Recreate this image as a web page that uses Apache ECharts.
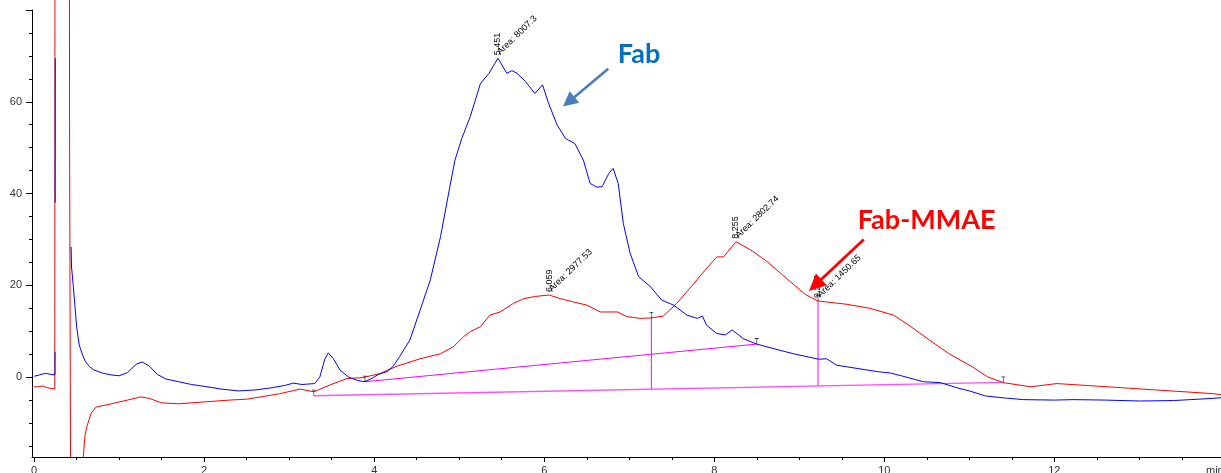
<!DOCTYPE html>
<html><head><meta charset="utf-8">
<script src="https://cdn.jsdelivr.net/npm/echarts@6/dist/echarts.min.js"></script>
<style>html,body{margin:0;padding:0;background:#fff;overflow:hidden}#c{width:1221px;height:473px}</style>
</head><body><div id="c"></div>
<script>
// ---------- data ----------
const blueTrace = [
 [0.0,0.2],[0.05,0.4],[0.1,0.7],[0.15,0.8],[0.2,0.6],[0.245,0.5],[0.246,5.5],[0.2465,null],[0.2475,38],[0.2485,69.5],[0.249,null],
 [0.435,28.4],[0.44,24],[0.46,20],[0.5,11],[0.53,7],[0.57,4.8],[0.6,3.5],[0.65,2.3],[0.7,1.6],[0.8,0.9],[0.9,0.5],
 [1.0,0.3],[1.1,1.0],[1.2,2.8],[1.27,3.3],[1.35,2.5],[1.45,0.6],[1.55,-0.4],[1.7,-1.0],[1.85,-1.6],[2.0,-2.0],
 [2.2,-2.6],[2.4,-3.0],[2.6,-2.8],[2.8,-2.3],[2.95,-1.8],[3.05,-1.3],[3.15,-1.6],[3.3,-1.4],[3.36,0],[3.42,4],
 [3.46,5.3],[3.52,4],[3.6,1.5],[3.7,0],[3.8,-0.7],[3.88,-1.0],[3.95,-0.5],[4.05,0.6],[4.15,1.2],[4.22,2.3],
 [4.3,4.5],[4.42,8.1],[4.54,14.6],[4.66,21.2],[4.78,30.6],[4.89,41.5],[4.95,47.3],[5.03,52.0],[5.13,56.8],
 [5.25,64.0],[5.35,66.2],[5.455,69.5],[5.56,66.2],[5.62,66.8],[5.68,66.2],[5.78,64.4],[5.89,61.8],[5.98,63.7],
 [6.05,59.7],[6.15,55.0],[6.25,52.0],[6.36,50.9],[6.46,47.3],[6.54,42.2],[6.62,41.4],[6.68,41.5],[6.76,44.4],
 [6.81,45.5],[6.87,42.2],[6.93,33.5],[7.01,27.0],[7.11,21.9],[7.25,19.7],[7.38,16.8],[7.52,15.7],[7.68,13.5],
 [7.80,12.8],[7.86,13.3],[7.91,11.3],[8.03,9.5],[8.13,9.2],[8.21,10.3],[8.34,8.4],[8.50,7.2],[8.70,6.2],
 [8.93,5.1],[9.23,3.9],[9.32,4.0],[9.44,2.6],[9.68,1.9],[9.92,1.2],[10.07,0.9],[10.2,0.3],[10.46,-1.0],
 [10.66,-1.2],[10.89,-2.5],[11.0,-3.0],[11.19,-4.1],[11.45,-4.6],[11.64,-4.9],[12.0,-5.0],[12.22,-4.9],
 [12.6,-5.0],[13.01,-5.2],[13.4,-5.1],[13.7,-4.8],[13.96,-4.5]
];
const redTrace = [
 [0.0,-2.1],[0.05,-2.1],[0.1,-1.9],[0.15,-2.3],[0.243,-2.6],[0.245,85],[0.415,85],[0.418,45],[0.428,-17.4],[0.43,null],
 [0.578,-17.4],[0.6,-12.5],[0.62,-10.8],[0.67,-7.9],[0.73,-6.5],[0.89,-5.9],[1.0,-5.4],[1.1,-5.0],[1.25,-4.3],
 [1.35,-4.6],[1.5,-5.6],[1.7,-5.8],[2.0,-5.4],[2.3,-5.0],[2.5,-4.8],[2.7,-4.2],[2.89,-3.6],[3.13,-2.6],[3.29,-3.2],
 [3.48,-1.7],[3.68,-0.3],[3.87,-0.1],[4.07,0.8],[4.27,2.4],[4.54,4.0],[4.78,5.1],[4.93,6.6],[5.05,8.8],[5.13,9.9],
 [5.25,11.0],[5.36,13.5],[5.48,14.2],[5.64,16.1],[5.76,17.1],[5.9,17.6],[6.059,17.9],[6.19,17.1],[6.34,16.4],
 [6.50,15.7],[6.66,14.2],[6.86,14.2],[6.97,13.2],[7.13,12.8],[7.26,12.9],[7.40,13.3],[7.56,16.1],[7.76,20.4],
 [7.9,23.5],[8.03,26.2],[8.11,26.2],[8.255,29.5],[8.43,27.7],[8.62,25.2],[8.85,21.5],[9.08,17.9],[9.22,16.6],
 [9.55,15.9],[9.83,15.0],[10.11,13.5],[10.29,11.3],[10.53,8.1],[10.76,5.1],[11.04,2.2],[11.21,0.1],[11.4,-1.2],
 [11.72,-2.1],[12.03,-1.4],[12.62,-2.1],[13.2,-2.8],[13.87,-3.6],[13.96,-3.8]
];
const blueBaseline = [[3.89,-1.0],[8.50,7.2]];
const redBaseline = [[3.29,-4.05],[11.40,-1.15]];
const dropLine1 = [[7.26,12.9],[7.26,-2.6]];
const dropLine2 = [[9.22,16.6],[9.22,-1.9]];
const baselineMarks = [[3.89,-1.0],[8.50,7.2],[3.29,-4.05],[11.40,-1.15],[7.26,12.9],[9.22,16.6]];

const xMajorTicks = [0,2,4,6,8,10,12];
const xMinorTicks = [0.5,1,1.5,2.5,3,3.5,4.5,5,5.5,6.5,7,7.5,8.5,9,9.5,10.5,11,11.5,12.5,13,13.5];
const yMajorTicks = [0,20,40,60,80];
const yLabelValues = [0,20,40,60];
const yMinorTicks = [-15,-10,-5,5,10,15,25,30,35,45,50,55,65,70,75];

const peakLabels = ['5.451','6.059','8.255','9.217'];
const peakX = [5.451,6.059,8.255,9.22];
const peakY = [69.5,17.9,29.5,16.6];
const peakAreas = ['8007.3','2977.53','2802.74','1450.65'];

const fabLabelPos = [7.115,70.4];
const mmaeLabelPos = [10.497,34.2];
const fabArrow = [[6.753,67.2],[6.22,58.95]];
const mmaeArrow = [[9.758,30.0],[9.114,18.76]];

// ---------- chart ----------
const FONT = '"Liberation Sans", Arial, sans-serif';
const chart = echarts.init(document.getElementById('c'), null, {renderer:'canvas'});
const axisCommon = {type:'value', min:-0.025, max:13.96, splitLine:{show:false}, position:'bottom'};
const yCommon = {type:'value', min:-17.4, max:80, splitLine:{show:false}, position:'left'};
const option = {
  animation:false,
  backgroundColor:'#fff',
  textStyle:{fontFamily:FONT},
  grid:{left:32, right:0, top:10, bottom:16, containLabel:false, outerBoundsMode:'none'},
  xAxis:[
    Object.assign({}, axisCommon, {
      axisLine:{show:true, onZero:false, lineStyle:{color:'#000', width:1}},
      axisTick:{show:true, length:5, customValues:xMajorTicks, lineStyle:{color:'#000'}},
      axisLabel:{show:true, customValues:xMajorTicks, margin:8, color:'#333', fontSize:11, fontFamily:FONT}
    }),
    Object.assign({}, axisCommon, {
      axisLine:{show:false, onZero:false},
      axisTick:{show:true, length:3, customValues:xMinorTicks, lineStyle:{color:'#000'}},
      axisLabel:{show:false}
    })
  ],
  yAxis:[
    Object.assign({}, yCommon, {
      axisLine:{show:true, onZero:false, lineStyle:{color:'#000', width:1}},
      axisTick:{show:true, length:6, customValues:yMajorTicks, lineStyle:{color:'#000'}},
      axisLabel:{show:true, customValues:yLabelValues, margin:10, color:'#333', fontSize:11, fontFamily:FONT}
    }),
    Object.assign({}, yCommon, {
      axisLine:{show:false, onZero:false},
      axisTick:{show:true, length:3, customValues:yMinorTicks, lineStyle:{color:'#000'}},
      axisLabel:{show:false}
    })
  ],
  series:[
    {type:'line', data:redBaseline, symbol:'none', lineStyle:{color:'#ff4dff', width:1.4}, silent:true, z:1},
    {type:'line', data:blueBaseline, symbol:'none', lineStyle:{color:'#ff00ff', width:1}, silent:true, z:1},
    {type:'line', data:dropLine1, symbol:'none', lineStyle:{color:'#ff00ff', width:1}, silent:true, z:1},
    {type:'line', data:dropLine2, symbol:'none', lineStyle:{color:'#ff00ff', width:1}, silent:true, z:1},
    {type:'line', data:redTrace, symbol:'none', clip:false, connectNulls:false, lineStyle:{color:'#ff0000', width:1}, silent:true, z:2},
    {type:'line', data:blueTrace, symbol:'none', clip:false, connectNulls:false, lineStyle:{color:'#0000ff', width:1}, silent:true, z:3},
    {type:'scatter', data:baselineMarks, symbol:'path://M0,0H6V1H3.5V7H2.5V1H0Z', symbolSize:[4,6], symbolOffset:[0,-3], itemStyle:{color:'#000'}, silent:true, z:4}
  ]
};
chart.setOption(option);

function px(p){ return chart.convertToPixel({xAxisIndex:0, yAxisIndex:0}, p); }
function arrowGraphics(a, color, lw, headL, headW){
  const s = px(a[0]), t = px(a[1]);
  const dx = t[0]-s[0], dy = t[1]-s[1], len = Math.hypot(dx,dy);
  const ux = dx/len, uy = dy/len, nx = -uy, ny = ux;
  const b = [t[0]-ux*headL, t[1]-uy*headL];
  return [
    {type:'line', shape:{x1:s[0], y1:s[1], x2:b[0]+ux*1, y2:b[1]+uy*1}, style:{stroke:color, lineWidth:lw}, z:100},
    {type:'polygon', shape:{points:[t, [b[0]+nx*headW/2, b[1]+ny*headW/2], [b[0]-nx*headW/2, b[1]-ny*headW/2]]}, style:{fill:color}, z:100}
  ];
}
const g = [];
for (let i=0;i<peakLabels.length;i++){
  const p = px([peakX[i], peakY[i]]);
  g.push({type:'text', x:p[0], y:p[1]-3, rotation:Math.PI/2, style:{text:peakLabels[i], font:'9px '+FONT, fill:'#000', align:'left', verticalAlign:'middle'}, z:90});
  g.push({type:'text', x:p[0]+1, y:p[1]-5, rotation:0.77, style:{text:'Area: '+peakAreas[i], font:'9px '+FONT, fill:'#000', align:'left', verticalAlign:'middle'}, z:90});
}
const fp = px(fabLabelPos), mp = px(mmaeLabelPos);
g.push({type:'text', x:fp[0], y:fp[1], style:{text:'Fab', font:'bold 27px Lato, "Open Sans", sans-serif', fill:'#0070c0', align:'center', verticalAlign:'middle'}, z:100});
g.push({type:'text', x:mp[0], y:mp[1], style:{text:'Fab-MMAE', font:'bold 27px Lato, "Open Sans", sans-serif', fill:'#ff0000', align:'center', verticalAlign:'middle'}, z:100});
g.push(...arrowGraphics(fabArrow, '#4a7ebb', 2.6, 15, 15));
g.push(...arrowGraphics(mmaeArrow, '#ff0000', 2.8, 17, 16));
g.push({type:'text', left:1206, top:465, style:{text:'min', font:'11px '+FONT, fill:'#333'}, z:90});
chart.setOption({graphic:g});
</script></body></html>
